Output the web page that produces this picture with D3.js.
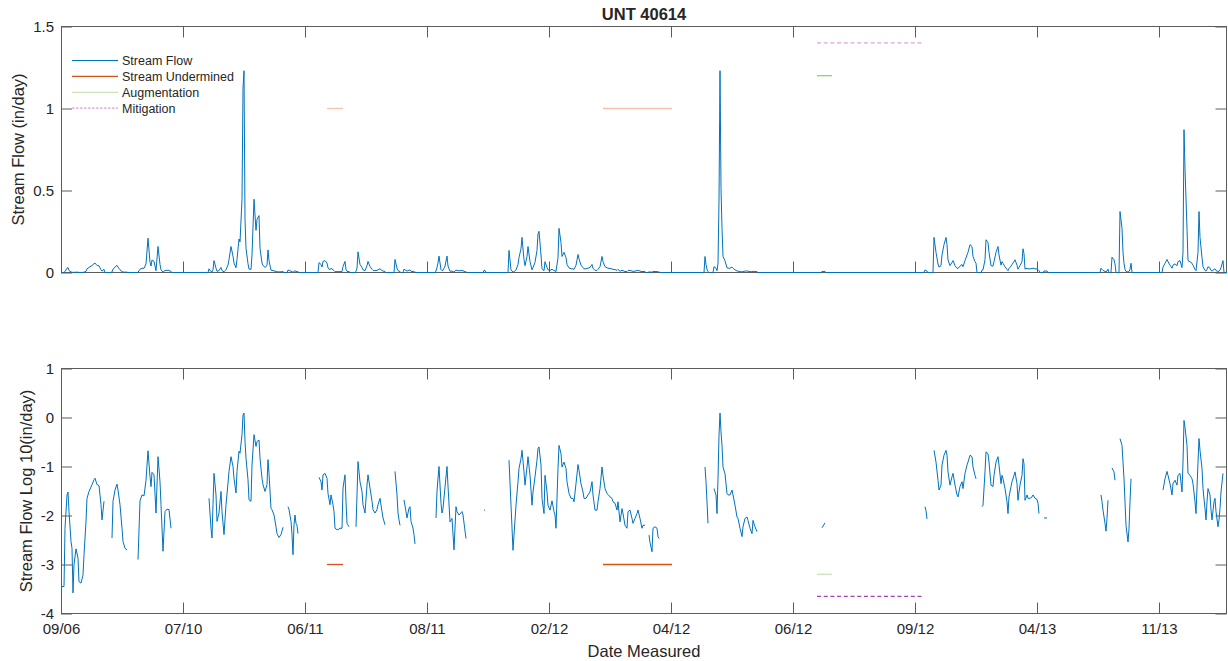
<!DOCTYPE html>
<html>
<head>
<meta charset="utf-8">
<script src="https://cdn.jsdelivr.net/npm/d3@7"></script>
<style>
  html, body { margin: 0; padding: 0; background: #fff; }
  svg { display: block; }
  text { font-family: "Liberation Sans", Arial, Helvetica, sans-serif; fill: #262626; }
</style>
</head>
<body>
<svg id="chart" width="1228" height="661"></svg>
<script>
// ---- data ---------------------------------------------------------------
const chartTitle = "UNT 40614";
const seriesNames = ["Stream Flow", "Stream Undermined", "Augmentation", "Mitigation"];

// measurement index of each dated tick and its label
const tickIndex = [0, 122, 244, 366, 488, 610, 732, 854, 976, 1098];
const tickLabels = ["09/06", "07/10", "06/11", "08/11", "02/12", "04/12", "06/12", "09/12", "04/13", "11/13"];
const lastIndex = 1166;

const flowTicks = [0, 0.5, 1, 1.5];
const flowTickLabels = ["0", "0.5", "1", "1.5"];
const logTicks = [-4, -3, -2, -1, 0, 1];
const logTickLabels = ["-4", "-3", "-2", "-1", "0", "1"];

// runs of non-zero stream flow, [measurement index, log10(in/day)]; zero flow between runs
const flowLogRuns = [
  [[1,-3.45],[3,-3.45],[4,-2.26],[6,-1.58],[7,-1.52],[8,-1.92],[10,-2.53],[11,-2.67],[12,-3.58],[13,-3.0],[15,-2.68],[17,-2.87],[18,-3.35],[20,-3.38],[22,-3.21],[23,-2.8],[25,-2.12],[26,-1.65],[28,-1.51],[31,-1.37],[33,-1.27],[34,-1.24],[36,-1.37],[38,-1.39],[40,-1.78],[41,-2.09],[43,-1.71]],
  [[51,-2.46],[52,-1.71],[54,-1.48],[56,-1.36],[57,-1.48],[59,-1.78],[61,-2.26],[62,-2.53],[64,-2.67],[66,-2.7]],
  [[77,-2.9],[79,-1.7],[81,-1.58],[83,-1.6],[85,-1.28],[87,-0.68],[89,-1.2],[90,-1.41],[91,-1.12],[93,-1.17],[95,-1.95],[97,-0.8],[99,-1.31],[100,-1.78],[102,-2.73],[104,-1.92],[106,-1.87],[108,-1.88],[110,-2.26]],
  [[148,-1.65],[150,-2.26],[151,-2.46],[152,-1.78],[153,-1.14],[155,-1.58],[156,-2.12],[158,-1.95],[160,-1.51],[161,-1.92],[163,-2.39],[165,-1.78],[167,-1.34],[168,-1.1],[170,-0.8],[172,-1.0],[173,-1.24],[175,-1.54],[176,-1.1],[178,-0.69],[179,-0.73],[181,-0.35],[182,0.05],[183,0.09],[184,-0.49],[185,-0.83],[187,-1.27],[188,-1.68],[190,-1.71],[191,-0.97],[193,-0.35],[195,-0.59],[196,-0.49],[198,-0.46],[199,-0.83],[201,-1.24],[202,-1.37],[204,-1.51],[206,-1.37],[207,-0.86],[208,-1.14],[210,-1.86],[211,-1.88],[213,-1.99],[215,-2.23],[216,-2.37],[218,-2.45],[220,-2.39],[222,-2.24]],
  [[227,-1.82],[228,-1.88],[230,-2.12],[231,-2.39],[232,-2.8],[233,-2.19],[234,-1.99],[235,-2.16],[236,-2.2],[237,-2.37]],
  [[258,-1.22],[260,-1.31],[261,-1.48],[262,-1.17],[264,-1.14],[266,-1.24],[267,-1.55],[269,-1.78],[270,-1.58],[272,-1.78],[273,-1.92],[274,-2.26],[276,-2.29],[277,-2.29],[279,-2.26],[281,-2.26],[282,-1.44],[284,-1.17],[285,-1.71],[286,-2.16],[288,-2.23]],
  [[295,-2.23],[296,-1.58],[297,-0.9],[299,-1.31],[301,-1.51],[302,-1.78],[304,-1.95],[306,-1.38],[307,-1.17],[309,-1.44],[311,-1.71],[312,-1.88],[314,-1.95],[316,-1.88],[317,-1.78],[319,-1.65],[321,-1.92],[322,-2.05],[324,-2.19]],
  [[334,-1.1],[336,-1.58],[337,-1.95],[338,-2.09],[339,-2.2]],
  [[343,-1.68],[345,-1.92],[346,-2.05],[347,-1.95],[348,-1.85],[349,-1.82],[350,-2.12],[352,-2.26],[353,-2.39],[354,-2.58]],
  [[375,-2.05],[376,-1.51],[377,-1.24],[378,-1.0],[380,-1.75],[381,-1.95],[382,-1.86],[384,-1.42],[386,-1.0],[387,-1.4],[389,-2.13],[391,-2.06],[393,-2.7],[395,-1.82],[396,-1.92],[398,-1.99],[401,-1.92],[402,-1.99],[405,-2.47]],
  [[423,-1.89],[424,-1.89]],
  [[448,-0.87],[450,-1.79],[452,-2.71],[453,-2.4],[455,-1.79],[457,-1.31],[458,-1.04],[460,-0.84],[461,-0.67],[463,-1.11],[464,-1.38],[466,-1.01],[467,-0.8],[469,-1.18],[471,-1.79],[472,-1.52],[474,-1.21],[476,-0.87],[477,-0.63],[478,-0.6],[480,-0.97],[481,-1.65],[483,-1.96],[484,-1.18],[486,-1.52],[487,-1.79],[489,-1.89],[491,-1.7],[493,-1.92],[494,-1.99],[495,-2.26],[497,-1.04],[498,-0.57],[500,-0.74],[501,-1.01],[503,-0.91],[505,-1.04],[506,-1.31],[508,-1.55],[510,-1.65],[512,-1.65],[513,-1.72],[515,-1.35],[517,-0.96],[518,-1.08],[520,-1.35],[522,-1.52],[523,-1.65],[525,-1.65],[527,-1.58],[529,-1.52],[531,-1.31],[532,-1.58],[534,-1.89],[536,-1.89],[537,-1.72],[539,-1.45],[541,-1.01],[542,-1.18],[544,-1.45],[546,-1.55],[547,-1.57],[549,-1.62],[551,-1.65],[552,-1.72],[554,-1.75],[556,-1.89],[557,-1.72],[559,-2.13],[561,-1.86],[562,-1.96],[564,-2.2],[566,-2.26],[567,-1.92],[569,-1.89],[571,-2.06],[572,-2.16],[574,-2.06],[576,-1.96],[577,-1.89],[579,-2.06],[581,-2.26],[582,-2.2],[584,-2.2]],
  [[588,-2.4],[589,-2.55],[591,-2.74],[592,-2.26],[594,-2.23],[596,-2.26],[597,-2.43],[598,-2.47]],
  [[644,-1.01],[645,-1.31],[646,-1.72],[647,-2.16]],
  [[653,-1.45],[655,-1.58],[656,-1.96],[657,-1.25],[658,-0.36],[659,0.09],[660,-0.29],[661,-0.57],[662,-1.01],[664,-1.15],[666,-1.55],[667,-1.58],[669,-1.58],[671,-1.48],[672,-1.58],[674,-1.79],[676,-2.03],[677,-2.06],[679,-2.26],[681,-2.43],[682,-2.23],[684,-2.06],[686,-2.03],[687,-2.1],[689,-2.26],[691,-2.37],[692,-2.1],[694,-2.23],[696,-2.33]],
  [[761,-2.25],[764,-2.15]],
  [[864,-1.82],[865,-1.9],[866,-2.07]],
  [[873,-0.67],[875,-0.91],[877,-1.28],[878,-1.48],[880,-1.38],[881,-0.97],[883,-0.77],[885,-0.67],[886,-0.77],[887,-1.11],[889,-1.38],[891,-1.21],[892,-1.14],[894,-1.38],[896,-1.58],[897,-1.62],[899,-1.41],[901,-1.31],[902,-1.45],[904,-1.14],[906,-0.97],[907,-0.91],[909,-0.77],[911,-0.8],[912,-1.01],[914,-1.18],[915,-1.25]],
  [[921,-1.82],[922,-1.79],[924,-1.11],[925,-0.7],[927,-0.74],[928,-0.91],[930,-1.38],[932,-1.41],[933,-1.18],[935,-0.91],[937,-0.8],[938,-0.97],[940,-1.35],[941,-1.18],[942,-1.25],[944,-1.45],[946,-1.72],[947,-1.96],[948,-1.62],[950,-1.41],[951,-1.31],[953,-1.18],[954,-1.11],[956,-1.35],[957,-1.69],[958,-1.52],[959,-1.38],[961,-1.18],[962,-0.84],[963,-0.94],[964,-1.69],[966,-1.58],[967,-1.65],[969,-1.65],[971,-1.62],[972,-1.58],[974,-1.65],[976,-1.67],[977,-1.75],[978,-1.96]],
  [[983,-2.05],[986,-2.05]],
  [[1040,-1.58],[1041,-1.72],[1042,-1.89],[1044,-2.16],[1045,-2.32],[1046,-2.06],[1047,-1.69]],
  [[1051,-1.03],[1053,-1.11],[1054,-1.28]],
  [[1059,-0.43],[1061,-0.57],[1062,-0.91],[1063,-1.25],[1064,-1.72],[1065,-2.2],[1067,-2.54],[1068,-2.27],[1069,-1.72],[1070,-1.25]],
  [[1102,-1.48],[1104,-1.25],[1106,-1.1],[1107,-1.18],[1109,-1.35],[1111,-1.58],[1112,-1.35],[1114,-1.28],[1116,-1.38],[1117,-1.18],[1119,-1.14],[1121,-1.52],[1122,-0.91],[1123,-0.06],[1124,-0.2],[1126,-0.57],[1127,-1.14],[1129,-1.18],[1131,-1.25],[1132,-1.35],[1134,-1.72],[1135,-1.96],[1137,-0.91],[1138,-0.43],[1139,-0.67],[1141,-1.04],[1142,-1.45],[1144,-1.86],[1145,-2.09],[1146,-1.72],[1147,-1.45],[1149,-1.58],[1150,-1.89],[1151,-2.09],[1153,-1.72],[1154,-1.65],[1155,-1.92],[1157,-2.23],[1158,-2.09],[1159,-1.86],[1160,-1.52],[1162,-1.14]]
];

// flagged periods, [first index, last index]
const underminedSpans = [[266, 282], [542, 611]];
const augmentationSpans = [[756, 771]];
const mitigationSpans = [[756, 861]];
// marker levels for the flags: undermined, augmentation, mitigation
const flagFlowLevels = [1.0, 1.2, 1.4];
const flagLogLevels = [-3, -3.2, -3.65];

// ---- layout -------------------------------------------------------------
const svg = d3.select("#chart");
const X0 = 61, X1 = 1227;
const topPanel = { y0: 26.5, y1: 272.5 };
const logPanel = { y0: 368.5, y1: 613.5 };
const TICK = 11;
const frameColor = "#5c5c5c";
const blue = "#0072BD";

const x = d3.scaleLinear().domain([0, lastIndex]).range([X0, X1]);
const yFlow = d3.scaleLinear().domain([0, 1.5]).range([topPanel.y1, topPanel.y0]);
const yLog = d3.scaleLinear().domain([-4, 1]).range([logPanel.y1, logPanel.y0]);

function drawFrame(p, yScale, yVals, yLabs, showXLabels) {
  const g = svg.append("g");
  // inward ticks on all four sides, labels only bottom/left
  const bx = d3.axisBottom(x).tickValues(tickIndex).tickSizeInner(-TICK).tickSizeOuter(0).tickPadding(10)
    .tickFormat((d, i) => showXLabels ? tickLabels[i] : "");
  const gb = g.append("g").attr("transform", `translate(0,${p.y1})`).call(bx);
  const tx = d3.axisTop(x).tickValues(tickIndex).tickSizeInner(-TICK).tickSizeOuter(0).tickFormat("");
  const gt = g.append("g").attr("transform", `translate(0,${p.y0})`).call(tx);
  const ly = d3.axisLeft(yScale).tickValues(yVals).tickSizeInner(-TICK).tickSizeOuter(0).tickPadding(7)
    .tickFormat((d, i) => yLabs[i]);
  const gl = g.append("g").attr("transform", `translate(${X0},0)`).call(ly);
  const ry = d3.axisRight(yScale).tickValues(yVals).tickSizeInner(-TICK).tickSizeOuter(0).tickFormat("");
  const gr = g.append("g").attr("transform", `translate(${X1 - 0.5},0)`).call(ry);
  [gb, gt, gl, gr].forEach(a => {
    a.select(".domain").remove();
    a.selectAll(".tick line").attr("stroke", frameColor).attr("stroke-width", 1);
    a.selectAll(".tick text").attr("font-size", 15).attr("fill", "#262626")
      .attr("font-family", '"Liberation Sans", Arial, sans-serif');
  });
  g.append("rect").attr("x", X0 + 0.5).attr("y", p.y0).attr("width", X1 - X0 - 1).attr("height", p.y1 - p.y0)
    .attr("fill", "none").attr("stroke", frameColor).attr("stroke-width", 1);
  return g;
}

// ---- top panel: stream flow in in/day ------------------------------------
drawFrame(topPanel, yFlow, flowTicks, flowTickLabels, false);

// linear flow: runs expanded back to zero between them
const flowPoints = [[0, 0]];
flowLogRuns.forEach(run => {
  flowPoints.push([run[0][0] - 1, 0]);
  run.forEach(([i, v]) => flowPoints.push([i, Math.pow(10, v)]));
  flowPoints.push([run[run.length - 1][0] + 1, 0]);
});
flowPoints.push([lastIndex, 0]);

const flowLine = d3.line().x(d => x(d[0])).y(d => yFlow(d[1]));
svg.append("path").datum(flowPoints).attr("d", flowLine)
  .attr("fill", "none").attr("stroke", blue).attr("stroke-width", 1).attr("stroke-linejoin", "round");

function drawSpans(spans, level, yScale, color, dash) {
  spans.forEach(s => {
    svg.append("line")
      .attr("x1", x(s[0])).attr("x2", x(s[1]))
      .attr("y1", yScale(level)).attr("y2", yScale(level))
      .attr("stroke", color).attr("stroke-width", 1.3)
      .attr("stroke-dasharray", dash || null);
  });
}
drawSpans(underminedSpans, flagFlowLevels[0], yFlow, "#f6c2ab");
drawSpans(augmentationSpans, flagFlowLevels[1], yFlow, "#9acd6a");
drawSpans(mitigationSpans, flagFlowLevels[2], yFlow, "#d9a6dd", "4,2.7");

// legend (no box)
const legendRows = [
  { name: seriesNames[0], color: blue, dash: null },
  { name: seriesNames[1], color: "#D95319", dash: null },
  { name: seriesNames[2], color: "#cfe3b9", dash: null },
  { name: seriesNames[3], color: "#cfa3d6", dash: "2.5,1.5" }
];
const lg = svg.append("g");
legendRows.forEach((r, k) => {
  const yy = 60.5 + k * 15.9;
  lg.append("line").attr("x1", 72).attr("x2", 118).attr("y1", yy).attr("y2", yy)
    .attr("stroke", r.color).attr("stroke-width", 1.2).attr("stroke-dasharray", r.dash);
  lg.append("text").attr("x", 122).attr("y", yy).attr("dy", "0.35em")
    .attr("font-size", 12.5).attr("fill", "#333").text(r.name);
});

// title and y label
svg.append("text").attr("x", (X0 + X1) / 2).attr("y", 20).attr("text-anchor", "middle")
  .attr("font-size", 16.5).attr("font-weight", "bold").attr("fill", "#000").text(chartTitle);
svg.append("text").attr("transform", `translate(24,${(topPanel.y0 + topPanel.y1) / 2}) rotate(-90)`)
  .attr("text-anchor", "middle").attr("font-size", 16.5).text("Stream Flow (in/day)");

// ---- bottom panel: log10 stream flow --------------------------------------
drawFrame(logPanel, yLog, logTicks, logTickLabels, true);

const logLine = d3.line().x(d => x(d[0])).y(d => yLog(d[1]));
flowLogRuns.forEach(run => {
  svg.append("path").datum(run).attr("d", logLine)
    .attr("fill", "none").attr("stroke", blue).attr("stroke-width", 1).attr("stroke-linejoin", "round");
});

drawSpans(underminedSpans, flagLogLevels[0], yLog, "#D95319");
drawSpans(augmentationSpans, flagLogLevels[1], yLog, "#cfe3b9");
drawSpans(mitigationSpans, flagLogLevels[2], yLog, "#a444b8", "4,2.7");

svg.append("text").attr("transform", `translate(32,${(logPanel.y0 + logPanel.y1) / 2}) rotate(-90)`)
  .attr("text-anchor", "middle").attr("font-size", 16.5).text("Stream Flow Log 10(in/day)");
svg.append("text").attr("x", (X0 + X1) / 2).attr("y", 657).attr("text-anchor", "middle")
  .attr("font-size", 16.5).text("Date Measured");
</script>
</body>
</html>
